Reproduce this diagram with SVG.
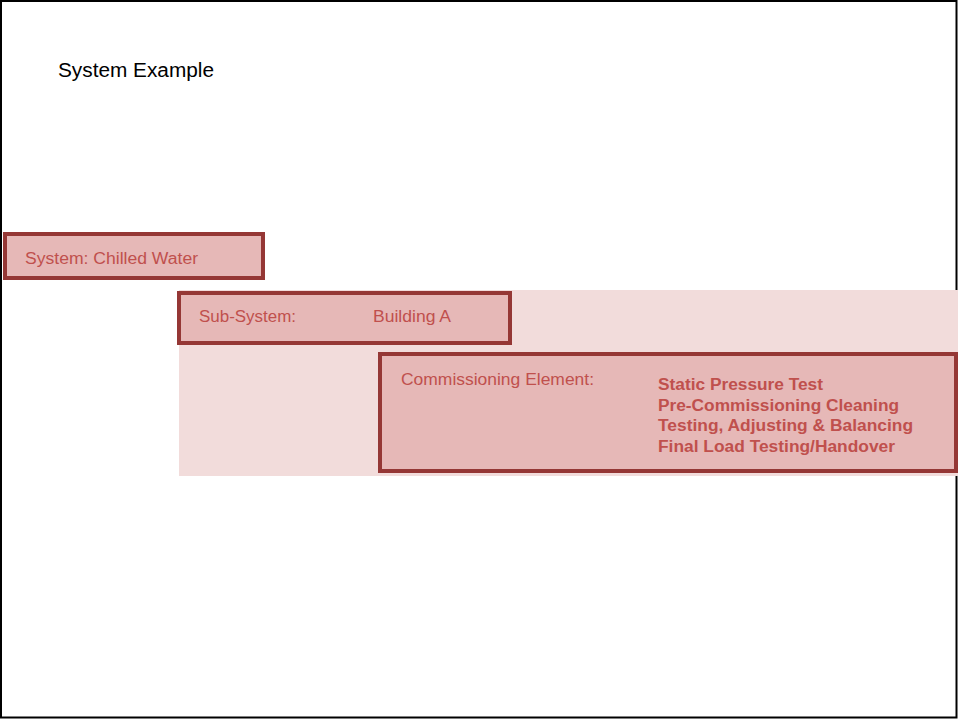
<svg xmlns="http://www.w3.org/2000/svg" width="958" height="720" viewBox="0 0 958 720">
<style>
.box{fill:#e6b8b7;stroke:#953735;stroke-width:4}
.lbl{font-family:"Liberation Sans",Arial,sans-serif;font-size:16px;fill:#c0504d}
.bold{font-family:"Liberation Sans",Arial,sans-serif;font-size:16px;font-weight:bold;fill:#c0504d}
</style>
<rect x="0" y="0" width="958" height="720" fill="#ffffff"/>
<rect x="1" y="1" width="955.5" height="716.5" fill="none" stroke="#000" stroke-width="2"/>
<text x="58" y="77" font-family="'Liberation Sans',Arial,sans-serif" font-size="20" fill="#000" textLength="156" lengthAdjust="spacingAndGlyphs">System Example</text>
<rect x="179" y="290" width="779" height="186" fill="#f2dcdb"/>
<g id="system">
<rect class="box" x="5" y="234" width="258" height="44"/>
<text class="lbl" x="25" y="264" textLength="173" lengthAdjust="spacingAndGlyphs">System: Chilled Water</text>
</g>
<g id="subsystem">
<rect class="box" x="179" y="293" width="331" height="50"/>
<text class="lbl" x="199" y="322" textLength="97" lengthAdjust="spacingAndGlyphs">Sub-System:</text>
<text class="lbl" x="373" y="322" textLength="78" lengthAdjust="spacingAndGlyphs">Building A</text>
</g>
<g id="element">
<rect class="box" x="380" y="354" width="576" height="117"/>
<text class="lbl" x="401" y="385" textLength="193" lengthAdjust="spacingAndGlyphs">Commissioning Element:</text>
<text class="bold" x="658" y="390" textLength="165" lengthAdjust="spacingAndGlyphs">Static Pressure Test</text>
<text class="bold" x="658" y="411" textLength="241" lengthAdjust="spacingAndGlyphs">Pre-Commissioning Cleaning</text>
<text class="bold" x="658" y="431" textLength="255" lengthAdjust="spacingAndGlyphs">Testing, Adjusting &amp; Balancing</text>
<text class="bold" x="658" y="452" textLength="237" lengthAdjust="spacingAndGlyphs">Final Load Testing/Handover</text>
</g>
<g id="connectors"/>
</svg>
